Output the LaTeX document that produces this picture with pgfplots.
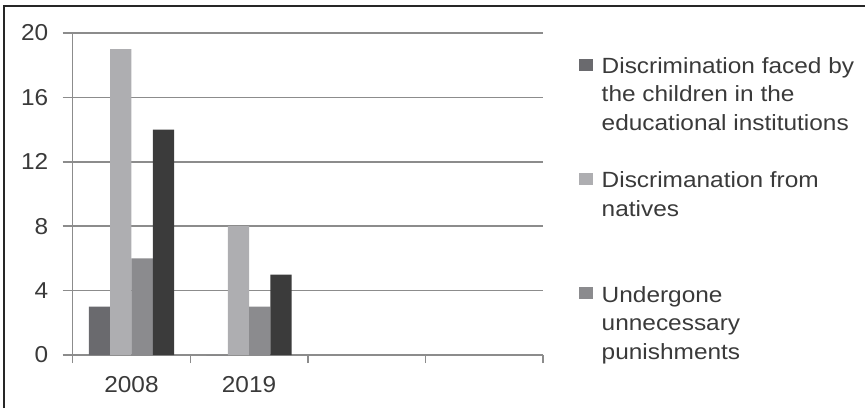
\documentclass[border=0pt]{standalone}
\usepackage{fontspec}
\setmainfont{Liberation Sans}[FakeStretch=1.06]
\newfontfamily\legfont{Liberation Sans}[FakeStretch=1.11]
\usepackage{pgfplots}
\pgfplotsset{compat=1.18}
\definecolor{cA}{HTML}{6A6A6E}
\definecolor{cB}{HTML}{AEAEB1}
\definecolor{cC}{HTML}{8B8B8E}
\definecolor{cD}{HTML}{3B3B3B}
\definecolor{gridc}{HTML}{8C8C8C}
\definecolor{txt}{HTML}{3A3A3A}
\begin{document}
\begin{tikzpicture}[x=1pt,y=1pt]
\useasboundingbox (0,0) rectangle (865,408);
\draw[black!85, line width=2pt] (4,0) -- (4,402) -- (865,402);
\begin{axis}[
  at={(72.7pt,53pt)}, anchor=south west,
  scale only axis, width=470.3pt, height=322pt,
  xmin=-0.5, xmax=3.5, ymin=0, ymax=20,
  ybar, bar width=21.3pt,
  axis x line*=bottom, axis y line*=left,
  axis line style={gridc, line width=1.5pt},
  tick align=outside,
  xtick={0,1}, xticklabels={2008,2019},
  major x tick style={draw=none},
  minor xtick={-0.5,0.5,1.5,2.5,3.5},
  minor tick length=8pt, major tick length=10pt,
  ytick={0,4,...,20},
  ymajorgrids, grid style={gridc, line width=1.5pt},
  tick style={gridc, line width=1.5pt},
  tick label style={font=\fontsize{23}{26}\selectfont, text=txt},
  yticklabel style={xshift=-11pt},
  xticklabel style={yshift=-8pt},
  /pgf/number format/assume math mode=true,
  legend style={draw=none, fill=none, inner sep=0pt, outer sep=0pt,
    at={(1.0766,0.9245)}, anchor=north west,
    font=\legfont\fontsize{22}{26}\selectfont, text=txt,
    row sep=0pt, column sep=8.7pt,
    nodes={inner sep=0pt, text height=16pt, text depth=12.6pt}},
  legend cell align=left,
  legend image code/.code={\fill[#1] (0pt,1pt) rectangle (14pt,13pt);},
]
\addplot[fill=cA, draw=none, forget plot, bar shift=-31.95pt] coordinates {(0,3) (1,0)};
\addplot[fill=cB, draw=none, forget plot, bar shift=-10.65pt] coordinates {(0,19) (1,8)};
\addplot[fill=cC, draw=none, forget plot, bar shift=10.65pt] coordinates {(0,6) (1,3)};
\addplot[fill=cD, draw=none, forget plot, bar shift=31.95pt] coordinates {(0,14) (1,5)};
\addlegendimage{fill=cA, draw=none}
\addlegendentry{Discrimination faced by}
\addlegendimage{empty legend}
\addlegendentry{the children in the}
\addlegendimage{empty legend}
\addlegendentry{educational institutions}
\addlegendimage{empty legend}
\addlegendentry{\strut}
\addlegendimage{fill=cB, draw=none}
\addlegendentry{Discrimanation from}
\addlegendimage{empty legend}
\addlegendentry{natives}
\addlegendimage{empty legend}
\addlegendentry{\strut}
\addlegendimage{empty legend}
\addlegendentry{\strut}
\addlegendimage{fill=cC, draw=none}
\addlegendentry{Undergone}
\addlegendimage{empty legend}
\addlegendentry{unnecessary}
\addlegendimage{empty legend}
\addlegendentry{punishments}
\end{axis}
\end{tikzpicture}
\end{document}
